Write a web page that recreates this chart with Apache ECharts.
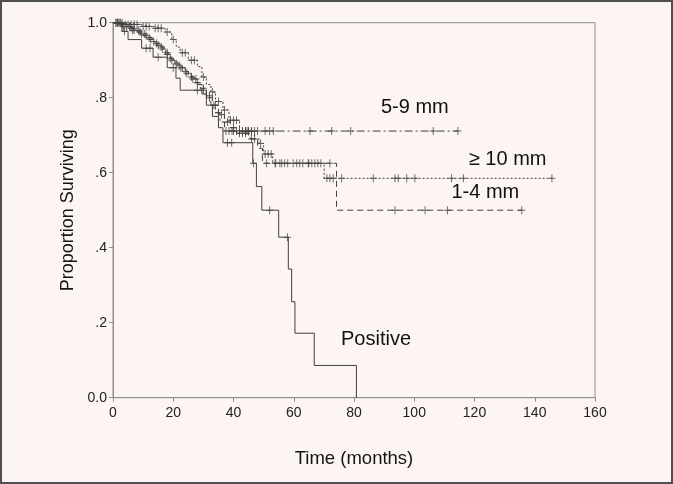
<!DOCTYPE html>
<html><head><meta charset="utf-8">
<script src="https://cdn.jsdelivr.net/npm/echarts@6/dist/echarts.min.js"></script>
<style>
html,body{margin:0;padding:0;background:#fcf5f2;}
#wrap{position:relative;width:673px;height:484px;}
#chart{width:673px;height:484px;}
#frame{position:absolute;left:0;top:0;width:673px;height:484px;box-sizing:border-box;border:2px solid #505050;pointer-events:none;}
</style></head>
<body><div id="wrap"><div id="chart"></div><div id="frame"></div></div>
<script>
// Kaplan-Meier step curves: event times (months) and survival after each drop
const t59 = [0,3,6,9,11,13,14.5,16,17.5,19,20.5,22,24,26,28,29.5,31,32.5,34,35.5,37];
const s59 = [1,0.99,0.98,0.97,0.96,0.95,0.94,0.93,0.915,0.9,0.89,0.88,0.865,0.85,0.835,0.82,0.8,0.78,0.76,0.735,0.711];
const end59 = 114.5;
const c59 = [1,1.5,2,2.5,3.5,4.5,5.5,6.5,7,8.5,9.5,10.5,12,13.5,15,16.5,18,19.5,21,22.5,24.5,26.5,27.5,30,32,33.5,35,37.5,38.5,39.5,40,41,42,43,44,44.5,45,46,47,48,50.5,52,53.2,65.4,72.6,78.9,106.3,114.5];

const t10 = [0,4,9,13,17.3,19.5,21,22.3,25,28,29.5,31,32.5,34,36.5,38.5,42,47,48.5,50,53,70.1];
const s10 = [1,0.995,0.99,0.985,0.975,0.955,0.935,0.92,0.9,0.883,0.855,0.835,0.815,0.79,0.767,0.74,0.71,0.69,0.678,0.65,0.625,0.585];
const end10 = 145.7;
const c10 = [1,2,3,5,6,7,8,10,11,12,14,15,16,18,20,23,24,26,27,30,33,35,37,39,40,41,43,44,45,46,49,50.5,51.5,52.5,54,56,58,61,63,65,67,69,71,72,73.1,75.9,86.4,93.6,94.7,97.5,100.2,112.4,116.3,145.7];

const t14 = [0,2,5,8,10,12,14,15.5,17,18.5,20,21.5,23,25,27,29,31,33,35,37,39,41,45.5,48,49.6,74.2];
const s14 = [1,0.995,0.985,0.975,0.965,0.955,0.945,0.935,0.92,0.905,0.895,0.885,0.87,0.855,0.84,0.825,0.805,0.78,0.755,0.735,0.72,0.705,0.69,0.665,0.625,0.5];
const end14 = 135.7;
const c14 = [1.5,3,4,6,7,9,11,12.5,14.5,16,18,19,22,24,26,28,30,32,34,36,38,40,42,43,44,46,47,51,53.8,55.4,57,59.8,62,64.8,66,68,72,93.6,103.6,111,135.7];

const tPos = [0,3,5,9.5,13.3,18,20.9,22.3,29.5,31,33,35,36.5,46.4,47.6,49.4,55,58.2,59.3,60.4,66.8,80.8];
const sPos = [1,0.977,0.955,0.932,0.908,0.88,0.852,0.82,0.81,0.78,0.75,0.72,0.68,0.625,0.563,0.5,0.428,0.343,0.256,0.172,0.086,0];
const endPos = 80.8;
const cPos = [3.8,11,12.3,15,20,28,38,39.4,46.6,52,57.9];

const xTicks = [0,20,40,60,80,100,120,140,160];
const yTicks = [0,0.2,0.4,0.6,0.8,1.0];
const yTickLabels = ['0.0','.2','.4','.6','.8','1.0'];

const groupLabels = [
  {text:'5-9 mm', x:100.2, y:0.775},
  {text:'≥ 10 mm', x:131, y:0.634},
  {text:'1-4 mm', x:123.6, y:0.546},
  {text:'Positive', x:87.3, y:0.154}
];

function stepData(t, s, end){
  const d = t.map((v,i)=>[v, s[i]]);
  if (end > t[t.length-1]) d.push([end, s[s.length-1]]);
  return d;
}
function censorData(t, s, c){
  return c.map(ct=>{
    let v = s[0];
    for (let i=0;i<t.length;i++){ if (t[i] <= ct) v = s[i]; }
    return [ct, v];
  });
}
const LC = '#404040';
const plus = 'path://M5,0 L5,10 M0,5 L10,5';
function lineSeries(t,s,end,dash){
  return {type:'line', step:'end', data:stepData(t,s,end), symbol:'none', silent:true,
    lineStyle:{color:LC, width:1, type:dash}, z:3};
}
function censSeries(t,s,c){
  return {type:'scatter', data:censorData(t,s,c), symbol:plus, symbolSize:[7,8], silent:true,
    itemStyle:{color:'rgba(0,0,0,0)', borderColor:LC, borderWidth:1}, z:4};
}
const chart = echarts.init(document.getElementById('chart'), null, {renderer:'canvas'});
chart.setOption({
  animation:false,
  backgroundColor:'#fcf5f2',
  grid:{left:113, right:78, top:22.7, bottom:86.3, show:true, borderColor:'#8e8e8e', borderWidth:1, backgroundColor:'transparent'},
  xAxis:{type:'value', min:0, max:160, interval:20,
    name:'Time (months)', nameLocation:'middle', nameGap:52,
    nameTextStyle:{fontFamily:'Liberation Sans, Arial', fontSize:18.5, color:'#151515'},
    axisLine:{show:true, lineStyle:{color:'#8e8e8e'}},
    axisTick:{show:true, length:4, lineStyle:{color:'#8e8e8e'}},
    axisLabel:{fontFamily:'Liberation Sans, Arial', fontSize:14, color:'#222', margin:8,
      formatter:v=>String(v)},
    splitLine:{show:false}},
  yAxis:{type:'value', min:0, max:1, interval:0.2,
    name:'Proportion Surviving', nameLocation:'middle', nameGap:26,
    nameTextStyle:{fontFamily:'Liberation Sans, Arial', fontSize:18, color:'#151515'},
    axisLine:{show:true, lineStyle:{color:'#8e8e8e'}},
    axisTick:{show:true, length:4, lineStyle:{color:'#8e8e8e'}},
    axisLabel:{fontFamily:'Liberation Sans, Arial', fontSize:14, color:'#222', margin:6,
      formatter:v=>{ const i = yTicks.findIndex(y=>Math.abs(y-v)<1e-6); return i>=0?yTickLabels[i]:''; }},
    splitLine:{show:false}},
  series:[
    lineSeries(t59,s59,end59,[8,3,2,3]),
    lineSeries(t10,s10,end10,[2,2]),
    lineSeries(t14,s14,end14,[6,4]),
    lineSeries(tPos,sPos,endPos,'solid'),
    censSeries(t59,s59,c59),
    censSeries(t10,s10,c10),
    censSeries(t14,s14,c14),
    censSeries(tPos,sPos,cPos),
    {type:'scatter', symbolSize:0, silent:true, z:5,
      data:groupLabels.map(g=>({value:[g.x,g.y], name:g.text})),
      label:{show:true, position:'inside', formatter:p=>p.name,
        fontFamily:'Liberation Sans, Arial', fontSize:20, color:'#111',
        textBorderWidth:0, textShadowBlur:0, opacity:1}}
  ]
});
</script></body></html>
